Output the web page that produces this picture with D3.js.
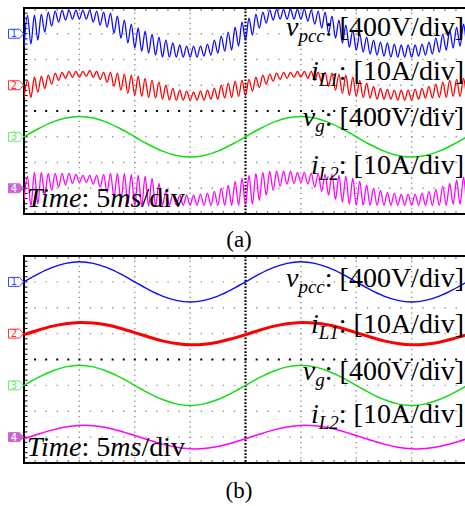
<!DOCTYPE html>
<html><head><meta charset="utf-8">
<script src="https://cdn.jsdelivr.net/npm/d3@7"></script>
<style>html,body{margin:0;padding:0;background:#fff}svg{display:block}</style>
</head><body>
<script>
// ---------- DATA ----------
const timePerDiv = 5;            // ms/div
const nDivX = 8;                 // visible horizontal divisions
const rippleStepMs = 0.625;      // one ripple cycle in panel (a)
const sampleStepMs = 1.25;       // sampling step for smooth traces

const channels = ["1", "2", "3", "4"];
const channelOffsets = [3, 1, -1, -3];           // divisions from screen centre
const channelScales = [400, 10, 400, 10];        // units per division
const channelColors = ["#0b0bff", "#ff0000", "#11dd11", "#ff00ff"];

const labelMain = ["v", "i", "v", "i"];
const labelSub = ["pcc", "L1", "g", "L2"];
const labelRest = [": [400V/div]", ": [10A/div]", ": [400V/div]", ": [10A/div]"];
const timeLabel = ["Time", ": 5", "ms", "/div"];
const captions = ["(a)", "(b)"];

// Panel (a): ripple peaks / troughs per ripple cycle (V or A)
const vpccA_peaks = [290,290,306,337,353,368,368,368,368,368,353,337,321,275,213,151,89,42,-5,-51,-98,-144,-175,-191,-191,-191,-160,-98,-36,26,104,182,244,306,337,368,384,384,384,384,384,368,353,337,275,213,135,57,-5,-51,-98,-129,-144,-160,-175,-175,-175,-160,-129,-67,-5,57,104,151,182];
const vpccA_troughs = [-207,-160,-98,26,120,182,213,228,228,228,182,135,104,11,-67,-144,-222,-269,-300,-331,-362,-362,-362,-362,-362,-362,-346,-331,-300,-269,-253,-191,-98,-20,89,166,213,228,228,228,228,197,151,89,11,-67,-144,-207,-253,-284,-315,-331,-346,-362,-362,-362,-362,-346,-331,-315,-284,-253,-222,-191,-160];
const iL1A_peaks = [1.9,3.1,3.5,3.9,4.7,5.0,5.4,5.4,5.4,5.8,5.4,5.0,5.0,4.7,4.3,3.9,3.5,2.7,1.9,1.2,0,-1.2,-1.9,-2.3,-2.7,-2.3,-1.9,-1.2,0,0.8,1.6,1.9,2.3,3.1,3.9,4.3,4.7,5.0,5.0,5.4,5.4,5.4,5.0,5.0,4.7,4.3,3.9,3.1,1.9,0.8,-0.4,-1.2,-1.6,-1.9,-1.9,-1.9,-1.6,-1.2,-0.4,0.4,1.2,1.9,2.3,2.7,2.7];
const iL1A_troughs = [-5.0,-4.7,-2.7,-1.2,0.4,1.9,2.7,3.1,3.1,3.5,3.1,2.3,1.2,-0.4,-1.9,-3.1,-3.9,-4.3,-4.7,-5.0,-5.4,-5.8,-5.8,-5.8,-5.8,-5.8,-5.8,-5.4,-5.4,-5.0,-4.7,-4.3,-3.9,-2.3,-0.8,0.4,1.6,2.3,2.7,3.1,3.1,2.7,1.9,1.2,-0.4,-1.9,-3.1,-3.9,-4.3,-4.7,-5.0,-5.4,-5.4,-5.4,-5.8,-5.8,-5.8,-5.4,-5.0,-5.0,-4.7,-4.7,-4.3,-4.3,-3.9];
const iL2A_peaks = [4.7,6.2,6.2,5.8,5.8,5.8,5.8,5.4,5.0,5.0,5.0,5.4,5.8,5.8,5.8,5.4,5.0,4.7,3.9,1.9,-0.8,-2.3,-2.7,-2.7,-2.7,-2.3,-1.9,-1.2,0,1.2,2.7,3.9,5.0,5.8,6.2,6.6,6.6,6.6,6.6,6.2,6.2,5.8,5.8,5.4,5.4,5.0,4.7,3.9,2.7,1.2,0,-0.8,-1.6,-1.9,-2.3,-2.3,-2.3,-1.9,-1.2,-0.4,0.8,1.9,3.1,4.3,5.0];
const iL2A_troughs = [-4.7,-7.0,-6.2,-2.7,-0.8,0.4,1.2,1.9,2.3,2.3,1.6,0.4,-1.6,-3.5,-5.0,-6.2,-7.0,-7.0,-7.0,-7.0,-6.6,-6.6,-6.6,-6.6,-6.6,-6.6,-6.6,-6.6,-6.6,-6.6,-6.6,-6.6,-6.6,-6.2,-4.7,-2.7,-0.8,0.8,1.6,1.9,2.3,1.6,0.4,-1.2,-2.7,-4.3,-5.4,-6.2,-6.6,-6.6,-6.6,-6.6,-6.6,-6.6,-6.6,-6.6,-6.6,-6.6,-6.6,-6.6,-6.6,-6.6,-6.2,-6.2,-5.8];
// Panel (a) grid voltage, sampled every quarter division
const vgA = [0,121,223,291,315,291,223,121,0,-121,-223,-291,-315,-291,-223,-121,0,121,223,291,315,291,223,121,0,-121,-223,-291,-315,-291,-223,-121,0];
// Panel (b) traces, sampled every quarter division
const vpccB = [0,119,219,286,310,286,219,119,0,-119,-219,-286,-310,-286,-219,-119,0,119,219,286,310,286,219,119,0,-119,-219,-286,-310,-286,-219,-119,0];
const iL1B = [-0.4,1.3,2.8,3.8,4.3,4.1,3.3,2.0,0.4,-1.3,-2.8,-3.8,-4.3,-4.1,-3.3,-2.0,-0.4,1.3,2.8,3.8,4.3,4.1,3.3,2.0,0.4,-1.3,-2.8,-3.8,-4.3,-4.1,-3.3,-2.0,-0.4];
const vgB = [0,119,219,286,310,286,219,119,0,-119,-219,-286,-310,-286,-219,-119,0,119,219,286,310,286,219,119,0,-119,-219,-286,-310,-286,-219,-119,0];
const iL2B = [-0.6,1.1,2.7,3.9,4.5,4.4,3.6,2.3,0.6,-1.1,-2.7,-3.9,-4.5,-4.4,-3.6,-2.3,-0.6,1.1,2.7,3.9,4.5,4.4,3.6,2.3,0.6,-1.1,-2.7,-3.9,-4.5,-4.4,-3.6,-2.3,-0.6];

// ---------- BUILD ----------
const W = 465, H = 506;
const svg = d3.select("body").append("svg").attr("width", W).attr("height", H)
  .style("font-family", "'Liberation Serif','Times New Roman',serif");
svg.append("rect").attr("width", W).attr("height", H).attr("fill", "#fff");

const panels = [
  {top: 8, bottom: 214, caption: captions[0], capY: 247,
   ripple: [[vpccA_peaks, vpccA_troughs], [iL1A_peaks, iL1A_troughs], null, [iL2A_peaks, iL2A_troughs]],
   smooth: [null, null, vgA, null], widths: [1.3, 1.3, 1.5, 1.3],
   labelY: [36, 80, 126, 174], timeY: 207},
  {top: 256, bottom: 463, caption: captions[1], capY: 498,
   ripple: [null, null, null, null],
   smooth: [vpccB, iL1B, vgB, iL2B], widths: [1.4, 3.0, 1.5, 1.5],
   labelY: [287, 333, 380, 423], timeY: 456}
];

const x = d3.scaleLinear().domain([0, nDivX * timePerDiv]).range([24, 467]);
const divW = (x.range()[1] - x.range()[0]) / nDivX;

panels.forEach((p, pi) => {
  const g = svg.append("g");
  const divH = (p.bottom - p.top) / 8;
  const yDiv = d3.scaleLinear().domain([4, -4]).range([p.top, p.bottom]);
  const clipId = "clip" + pi;
  svg.append("clipPath").attr("id", clipId).append("rect")
    .attr("x", 24).attr("y", p.top).attr("width", W - 24).attr("height", p.bottom - p.top);

  // gray dotted grid
  const grid = g.append("g").attr("stroke", "#8f8f8f").attr("stroke-width", 1.4);
  for (let i = 1; i < nDivX; i++) {
    if (i === 4) continue;
    grid.append("line").attr("x1", x(i * timePerDiv)).attr("x2", x(i * timePerDiv))
      .attr("y1", p.top + divH * 0.2 - 0.6).attr("y2", p.bottom)
      .attr("stroke-dasharray", `1.3,${(divH * 0.2 - 1.3).toFixed(2)}`);
  }
  for (let j = -3; j <= 3; j++) {
    if (j === 0) continue;
    grid.append("line").attr("y1", yDiv(j)).attr("y2", yDiv(j))
      .attr("x1", 24 + divW * 0.2 - 0.6).attr("x2", W)
      .attr("stroke-dasharray", `1.3,${(divW * 0.2 - 1.3).toFixed(2)}`);
  }
  // minor ticks on top and bottom borders
  for (let k = 1; k < nDivX * 5; k++) {
    const xx = 24 + k * divW * 0.2;
    grid.append("line").attr("x1", xx).attr("x2", xx).attr("y1", p.top).attr("y2", p.top + 3);
    grid.append("line").attr("x1", xx).attr("x2", xx).attr("y1", p.bottom - 3).attr("y2", p.bottom);
  }
  // black centre dotted lines
  g.append("line").attr("x1", 24 + divW * 0.2 - 1).attr("x2", W).attr("y1", yDiv(0)).attr("y2", yDiv(0))
    .attr("stroke", "#000").attr("stroke-width", 2)
    .attr("stroke-dasharray", `2,${(divW * 0.2 - 2).toFixed(2)}`);
  g.append("line").attr("x1", x(4 * timePerDiv)).attr("x2", x(4 * timePerDiv))
    .attr("y1", p.top).attr("y2", p.bottom)
    .attr("stroke", "#000").attr("stroke-width", 2.2).attr("stroke-dasharray", "1.7,1.7");

  // border
  const bd = g.append("g").attr("stroke", "#000").attr("stroke-width", 2);
  bd.append("line").attr("x1", 24).attr("x2", W).attr("y1", p.top).attr("y2", p.top);
  bd.append("line").attr("x1", 24).attr("x2", W).attr("y1", p.bottom).attr("y2", p.bottom);
  bd.append("line").attr("x1", 24).attr("x2", 24).attr("y1", p.top - 1).attr("y2", p.bottom + 1);
  for (let k = 1; k < 40; k++) {
    const yy = p.top + k * divH * 0.2;
    bd.append("line").attr("x1", 24).attr("x2", 27.5).attr("y1", yy).attr("y2", yy).attr("stroke-width", 1);
  }

  // traces
  const traces = g.append("g").attr("clip-path", `url(#${clipId})`);
  channels.forEach((ch, ci) => {
    const vpd = channelScales[ci], off = channelOffsets[ci];
    const y = d3.scaleLinear().domain([(-4 - off) * vpd, (4 - off) * vpd]).range([p.bottom, p.top]);
    let pts = [];
    if (p.ripple[ci]) {
      const [pk, tr] = p.ripple[ci];
      tr.forEach((v, k) => {
        pts.push([k * rippleStepMs, v]);
        pts.push([k * rippleStepMs + rippleStepMs / 2, pk[k]]);
      });
    } else {
      pts = p.smooth[ci].map((v, k) => [k * sampleStepMs, v]);
    }
    const line = d3.line().x(d => x(d[0])).y(d => y(d[1]))
      .curve(p.ripple[ci] ? d3.curveMonotoneX : d3.curveCardinal.tension(0.2));
    traces.append("path").datum(pts).attr("d", line).attr("fill", "none")
      .attr("stroke", channelColors[ci]).attr("stroke-width", p.widths[ci])
      .attr("stroke-linejoin", "round");
  });

  // channel markers
  const markerStroke = ["#3344ff", "#ff3030", "#66ee66", "#cc66cc"];
  channels.forEach((ch, ci) => {
    const cy = yDiv(channelOffsets[ci]);
    const mg = svg.append("g");
    const filled = ci === 3;
    mg.append("path")
      .attr("d", `M8.5,${cy - 4.5}H19.5L23.5,${cy}L19.5,${cy + 4.5}H8.5Z`)
      .attr("fill", filled ? "#cc66cc" : "#fff")
      .attr("stroke", markerStroke[ci]).attr("stroke-width", 1);
    mg.append("text").attr("x", 14).attr("y", cy + 3.5).attr("text-anchor", "middle")
      .attr("font-size", 10).attr("font-family", "'DejaVu Sans',sans-serif")
      .attr("fill", filled ? "#fff" : markerStroke[ci]).text(ch);
  });

  // channel labels
  channels.forEach((ch, ci) => {
    const t = svg.append("text").attr("x", 464).attr("y", p.labelY[ci])
      .attr("text-anchor", "end").attr("font-size", 28).attr("fill", "#000");
    t.append("tspan").attr("font-style", "italic").text(labelMain[ci]);
    t.append("tspan").attr("font-style", "italic").attr("font-size", 19).attr("dy", 6).text(labelSub[ci]);
    t.append("tspan").attr("dy", -6).text(labelRest[ci]);
  });

  // time label
  const tt = svg.append("text").attr("x", 27).attr("y", p.timeY).attr("font-size", 28).attr("fill", "#000");
  tt.append("tspan").attr("font-style", "italic").text(timeLabel[0]);
  tt.append("tspan").text(timeLabel[1]);
  tt.append("tspan").attr("font-style", "italic").text(timeLabel[2]);
  tt.append("tspan").text(timeLabel[3]);

  // caption
  svg.append("text").attr("x", 239).attr("y", p.capY).attr("text-anchor", "middle")
    .attr("font-size", 23).attr("fill", "#000").text(p.caption);
});
</script>
</body></html>
